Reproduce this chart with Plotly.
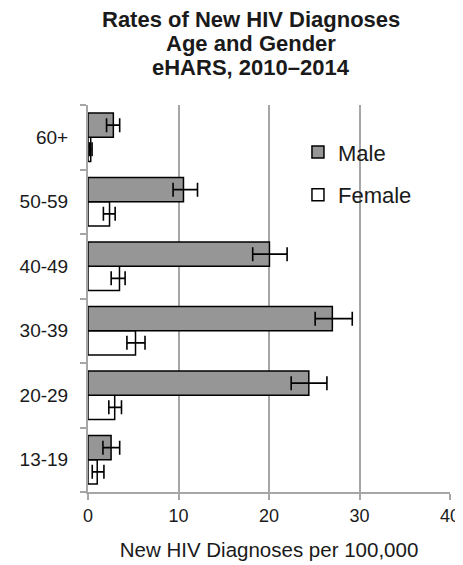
import plotly.graph_objects as go

ages = ["13-19", "20-29", "30-39", "40-49", "50-59", "60+"]
male = [2.55, 24.4, 27.0, 20.05, 10.55, 2.8]
male_lo = [1.65, 22.45, 25.1, 18.2, 9.4, 2.05]
male_hi = [3.5, 26.4, 29.2, 22.0, 12.1, 3.5]
female = [1.02, 2.95, 5.25, 3.48, 2.38, 0.3]
female_lo = [0.47, 2.3, 4.3, 2.56, 1.7, 0.15]
female_hi = [1.76, 3.7, 6.3, 4.1, 3.0, 0.45]
title_lines = ["Rates of New HIV Diagnoses", "Age and Gender", "eHARS, 2010\u20132014"]

FONT = "Liberation Sans, Arial, sans-serif"
TXT = "#1a1a1a"

def err(vals, lo, hi, color="black"):
    return dict(type="data", symmetric=False,
                array=[h - v for v, h in zip(vals, hi)],
                arrayminus=[v - l for v, l in zip(vals, lo)],
                color=color, thickness=1.6, width=7)

fig = go.Figure()
fig.add_trace(go.Bar(
    y=ages, x=female, orientation="h", name="Female", legendgroup="f",
    marker=dict(color="white", line=dict(color="black", width=1.5)),
    error_x=err(female, female_lo, female_hi), legendrank=2))
fig.add_trace(go.Bar(
    y=ages, x=male, orientation="h", name="Male", legendgroup="m",
    marker=dict(color="#969696", line=dict(color="black", width=1.5)),
    error_x=err(male, male_lo, male_hi), legendrank=1))

title_y = [1.222, 1.160, 1.098]
for line, yy in zip(title_lines, title_y):
    fig.add_annotation(
        text="<b>" + line + "</b>",
        xref="paper", yref="paper", x=0.45, y=yy, xanchor="center", yanchor="middle",
        showarrow=False, font=dict(size=22, color=TXT, family=FONT))

fig.update_layout(
    width=455, height=557,
    margin=dict(l=80, r=13, t=97, b=73),
    paper_bgcolor="white", plot_bgcolor="white",
    barmode="group", bargap=0.25, bargroupgap=0,
    font=dict(family=FONT, color=TXT),
    legend=dict(x=0.58, y=0.932, xanchor="left", yanchor="top",
                font=dict(size=22), bgcolor="rgba(0,0,0,0)",
                itemwidth=30, tracegroupgap=11),
    xaxis=dict(range=[0, 40], dtick=10, showgrid=True, gridcolor="#a6a6a6", gridwidth=2,
               showline=True, linecolor="#a6a6a6", linewidth=2,
               ticks="outside", ticklen=6, tickcolor="#a6a6a6", tickwidth=2,
               tickfont=dict(size=18), zeroline=False, automargin=False,
               title=dict(text="New HIV Diagnoses per 100,000", font=dict(size=20.5), standoff=18)),
    yaxis=dict(categoryorder="array", categoryarray=ages, showgrid=False,
               showline=True, linecolor="#a6a6a6", linewidth=2,
               ticks="outside", ticklen=6, tickcolor="#a6a6a6", tickwidth=2,
               tickson="boundaries", tickfont=dict(size=19), ticklabelstandoff=14,
               automargin=False),
)

fig.write_html("out.html")
